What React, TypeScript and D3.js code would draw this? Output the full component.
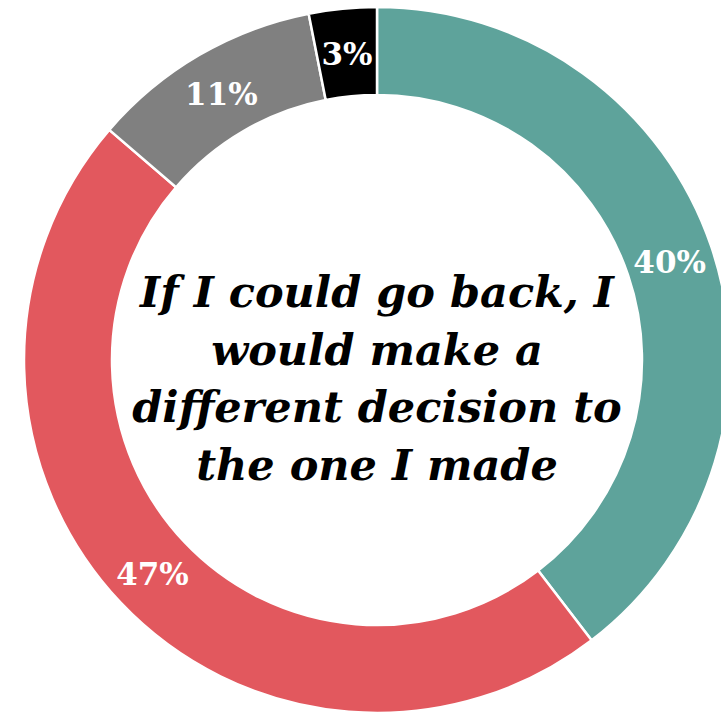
import React from "react";
import * as d3 from "d3";

const categories = ["Disagree", "Agree", "Neutral", "Don't know"];
const values = [39.6, 46.7, 10.6, 3.1];
const labels = ["40%", "47%", "11%", "3%"];
const colors = ["#5ea39b", "#e2585e", "#808080", "#000000"];
const titleLines = ["If I could go back, I", "would make a", "different decision to", "the one I made"];

const W = 721;
const H = 713;
const cx = 377;
const cy = 360;
const outerR = 353;
const innerR = 265;

export default function App() {
  const pie = d3.pie<number>().sort(null).value((d) => d);
  const arcs = pie(values);
  const arc = d3.arc<d3.PieArcDatum<number>>().innerRadius(innerR).outerRadius(outerR);
  const labelArc = d3
    .arc<d3.PieArcDatum<number>>()
    .innerRadius((innerR + outerR) / 2)
    .outerRadius((innerR + outerR) / 2);
  const lineH = 57.7;
  const firstBaseline = 307;
  return (
    <svg
      width={W}
      height={H}
      style={{ position: "absolute", left: 0, top: 0, display: "block" }}
    >
      <rect width={W} height={H} fill="#ffffff" />
      <g transform={`translate(${cx},${cy})`}>
        {arcs.map((a, i) => (
          <path key={categories[i]} d={arc(a) || ""} fill={colors[i]} stroke="#ffffff" strokeWidth={2.5} />
        ))}
        {arcs.map((a, i) => {
          const [x, y] = labelArc.centroid(a);
          return (
            <text
              key={"l" + i}
              x={x}
              y={y}
              dy="0.4em"
              textAnchor="middle"
              fill="#ffffff"
              fontFamily="'DejaVu Serif', serif"
              fontWeight="bold"
              fontSize={31}
            >
              {labels[i]}
            </text>
          );
        })}
      </g>
      {titleLines.map((t, i) => (
        <text
          key={"t" + i}
          x={cx}
          y={firstBaseline + i * lineH}
          textAnchor="middle"
          fill="#000000"
          fontFamily="'DejaVu Serif', serif"
          fontWeight="bold"
          fontStyle="italic"
          fontSize={43}
        >
          {t}
        </text>
      ))}
    </svg>
  );
}
